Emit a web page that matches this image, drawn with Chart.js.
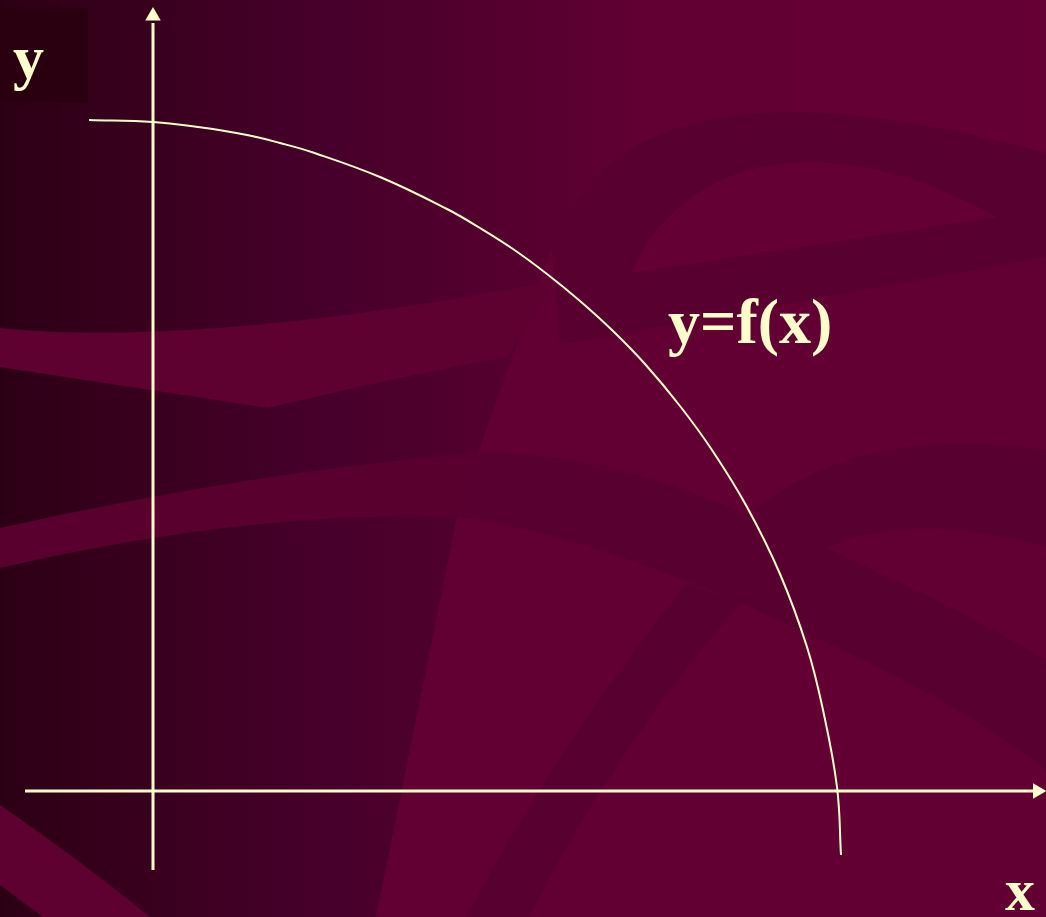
<!DOCTYPE html>
<html>
<head>
<meta charset="utf-8">
<title>y=f(x)</title>
<script src="https://cdn.jsdelivr.net/npm/chart.js@4"></script>
<style>
  html, body { margin: 0; padding: 0; background: #660034; overflow: hidden; }
  #wrap { width: 1046px; height: 917px; }
</style>
</head>
<body>
<div id="wrap"><canvas id="fx" width="1046" height="917"></canvas></div>
<script>
// the curve y = f(x), in axis units
const curveX = [-0.64, 0.00, 0.47, 0.94, 1.27, 1.60, 2.27, 2.94, 3.27, 3.60, 3.94, 4.27, 4.60, 4.92, 5.27, 5.59, 5.94, 6.27, 6.54, 6.70, 6.84, 6.88];
const curveY = [6.71, 6.69, 6.637, 6.56, 6.48, 6.385, 6.14, 5.82, 5.63, 5.42, 5.17, 4.90, 4.60, 4.27, 3.85, 3.41, 2.84, 2.17, 1.44, 0.81, 0.04, -0.64];

// axis lines (start, end)
const xAxisSpan = [-1.28, 8.80];
const yAxisSpan = [-0.79, 7.68];

// arrowheads: centre and rotation
const arrowX = [8.845, 0];
const arrowY = [0, 7.75];
const arrowRot = [90, 0];

// text labels
const labelText = ['y', 'y=f(x)', 'x'];
const labelX = [-1.40, 5.15, 8.52];
const labelY = [7.13, 4.48, -1.19];
const labelSize = [62, 64, 60];

const cream = '#ffffcc';

function shape(ctx, color, draw) {
  ctx.fillStyle = color;
  ctx.beginPath();
  draw(ctx);
  ctx.closePath();
  ctx.fill();
}

// slide-style backdrop: dark-to-wine gradient with ribbons
const backdrop = {
  id: 'backdrop',
  beforeDraw(chart) {
    const ctx = chart.ctx, w = chart.width, h = chart.height;
    ctx.save();
    const g = ctx.createLinearGradient(0, 0, w, 0);
    g.addColorStop(0, '#2c0014');
    g.addColorStop(0.15, '#3a001f');
    g.addColorStop(0.3, '#45002a');
    g.addColorStop(0.45, '#52002d');
    g.addColorStop(0.53, '#590030');
    g.addColorStop(0.62, '#620033');
    g.addColorStop(1, '#660034');
    ctx.fillStyle = g;
    ctx.fillRect(0, 0, w, h);

    // lighter field on the right, below the top arc
    shape(ctx, '#630033', c => {
      c.moveTo(552, 247); c.lineTo(478, 453); c.lineTo(457, 517);
      c.lineTo(376, h); c.lineTo(w, h); c.lineTo(w, 153);
      c.bezierCurveTo(740, 70, 600, 120, 552, 247);
    });

    const dark = '#580030';
    // wide ribbon sweeping right and down
    shape(ctx, dark, c => {
      c.moveTo(470, 452);
      c.bezierCurveTo(560, 450, 660, 475, 760, 520);
      c.bezierCurveTo(880, 570, 980, 620, w, 660);
      c.lineTo(w, 770);
      c.bezierCurveTo(960, 700, 840, 650, 741, 603);
      c.bezierCurveTo(660, 570, 560, 530, 457, 517);
    });

    // light strips on the left
    shape(ctx, '#5e0030', c => {
      c.moveTo(0, 328);
      c.bezierCurveTo(120, 340, 300, 330, 560, 280);
      c.lineTo(536, 313); c.lineTo(507, 357);
      c.quadraticCurveTo(420, 372, 268, 408);
      c.lineTo(0, 367);
    });
    shape(ctx, '#5a002f', c => {
      c.moveTo(0, 528);
      c.quadraticCurveTo(260, 470, 480, 453);
      c.lineTo(457, 517);
      c.quadraticCurveTo(250, 510, 0, 568);
    });
    shape(ctx, '#5e0030', c => {
      c.moveTo(0, 805); c.quadraticCurveTo(80, 860, 150, h); c.lineTo(43, h); c.lineTo(0, 885);
    });

    // top arc with the band beneath the leaf
    shape(ctx, dark, c => {
      c.moveTo(560, 345); c.lineTo(552, 247);
      c.bezierCurveTo(600, 120, 740, 70, 1046, 153);
      c.lineTo(w, 257);
    });
    shape(ctx, '#650034', c => {
      c.moveTo(631, 273);
      c.bezierCurveTo(680, 160, 820, 120, 997, 217);
    });
    // arc rising to the right edge
    shape(ctx, dark, c => {
      c.moveTo(754, 510);
      c.bezierCurveTo(820, 460, 900, 430, w, 450);
      c.lineTo(w, 547);
      c.bezierCurveTo(950, 520, 880, 525, 829, 547);
      c.lineTo(790, 560);
    });
    // diagonal running down to the bottom edge
    shape(ctx, dark, c => {
      c.moveTo(687, 583);
      c.quadraticCurveTo(560, 740, 466, h);
      c.lineTo(529, h);
      c.quadraticCurveTo(620, 740, 741, 603);
    });

    // dark box behind the y label
    ctx.fillStyle = '#2a0010';
    ctx.fillRect(0, 8, 88, 94);
    ctx.restore();
  }
};

const labels = {
  id: 'labels',
  afterDatasetsDraw(chart) {
    const ctx = chart.ctx, xs = chart.scales.x, ys = chart.scales.y;
    ctx.save();
    ctx.fillStyle = cream;
    ctx.textAlign = 'left';
    ctx.textBaseline = 'alphabetic';
    labelText.forEach((t, i) => {
      ctx.font = 'bold ' + labelSize[i] + 'px "Liberation Serif", "Times New Roman", serif';
      ctx.fillText(t, xs.getPixelForValue(labelX[i]), ys.getPixelForValue(labelY[i]));
    });
    ctx.restore();
  }
};

const curve = curveX.map((x, i) => ({ x: x, y: curveY[i] }));
const arrows = arrowX.map((x, i) => ({ x: x, y: arrowY[i] }));

new Chart(document.getElementById('fx'), {
  type: 'scatter',
  data: {
    datasets: [
      {
        label: 'x axis',
        data: [{ x: xAxisSpan[0], y: 0 }, { x: xAxisSpan[1], y: 0 }],
        showLine: true, borderColor: cream, borderWidth: 3, pointRadius: 0
      },
      {
        label: 'y axis',
        data: [{ x: 0, y: yAxisSpan[0] }, { x: 0, y: yAxisSpan[1] }],
        showLine: true, borderColor: cream, borderWidth: 3, pointRadius: 0
      },
      {
        label: 'arrows',
        data: arrows,
        pointStyle: 'triangle',
        rotation: arrowRot,
        pointRadius: 9,
        backgroundColor: cream,
        borderColor: cream,
        borderWidth: 0
      },
      {
        label: 'y=f(x)',
        data: curve,
        showLine: true,
        tension: 0.4,
        borderColor: cream,
        borderWidth: 2,
        pointRadius: 0
      }
    ]
  },
  options: {
    responsive: false,
    animation: false,
    layout: { padding: 0, autoPadding: false },
    plugins: { legend: { display: false }, tooltip: { enabled: false } },
    scales: {
      x: { type: 'linear', min: -1.53, max: 8.93, display: false },
      y: { type: 'linear', min: -1.26, max: 7.91, display: false }
    }
  },
  plugins: [backdrop, labels]
});
</script>
</body>
</html>
